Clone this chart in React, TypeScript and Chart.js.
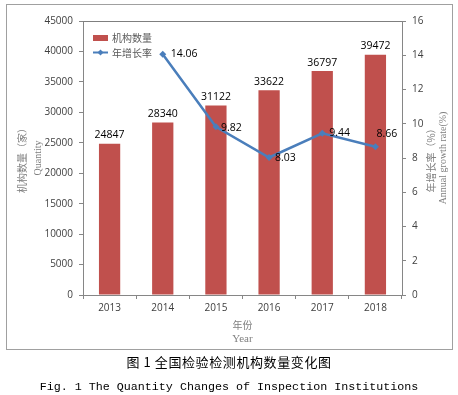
import React, { useEffect, useRef } from "react";
import { Chart, registerables } from "chart.js";

Chart.register(...registerables);

const years = ["2013", "2014", "2015", "2016", "2017", "2018"];
const institutionCounts = [24847, 28340, 31122, 33622, 36797, 39472];
const growthRates = [null, 14.06, 9.82, 8.03, 9.44, 8.66];
const leftTicks = { min: 0, max: 45000, step: 5000 };
const rightTicks = { min: 0, max: 16, step: 2 };
const barLabel = "机构数量";
const lineLabel = "年增长率";
const leftTitleCn = "机构数量（家）";
const leftTitleEn = "Quantity";
const rightTitleCn = "年增长率（%）";
const rightTitleEn = "Annual growth rate(%)";
const xTitleCn = "年份";
const xTitleEn = "Year";
const captionCn = "图 1 全国检验检测机构数量变化图";
const captionEn = "Fig. 1 The Quantity Changes of Inspection Institutions";

const BAR_COLOR = "#C0504D";
const LINE_COLOR = "#4A7EBB";
const AXIS_COLOR = "#868686";
const TITLE_COLOR = "#7f7f7f";
const TICK_FONT = { family: "'Open Sans', sans-serif", size: 10 };

// label placement offsets for the line labels (style only)
const lineLabelOffsets = [
  [0, 0],
  [8, 0],
  [5, 1],
  [6, 1],
  [7, 0],
  [1, -13],
];

const decorPlugin = {
  id: "decor",
  afterDatasetsDraw(chart: any) {
    const ctx = chart.ctx;
    const area = chart.chartArea;
    ctx.save();
    // top border of plot
    ctx.strokeStyle = "#7f7f7f";
    ctx.lineWidth = 1;
    ctx.beginPath();
    ctx.moveTo(area.left, Math.round(area.top) + 0.5);
    ctx.lineTo(area.right, Math.round(area.top) + 0.5);
    ctx.stroke();

    // bar labels
    const barMeta = chart.getDatasetMeta(1);
    ctx.fillStyle = "#000";
    ctx.font = "10.5px 'Open Sans', sans-serif";
    ctx.textAlign = "center";
    ctx.textBaseline = "bottom";
    barMeta.data.forEach((el: any, i: number) => {
      ctx.fillText(String(institutionCounts[i]), el.x, el.y - 3);
    });

    // line labels
    const lineMeta = chart.getDatasetMeta(0);
    ctx.textAlign = "left";
    ctx.textBaseline = "middle";
    lineMeta.data.forEach((el: any, i: number) => {
      const v = growthRates[i];
      if (v === null || el.skip) return;
      const [dx, dy] = lineLabelOffsets[i];
      ctx.fillText(v.toFixed(2), el.x + dx, el.y + dy);
    });

    // legend
    const lx = area.left + 10;
    ctx.fillStyle = BAR_COLOR;
    ctx.fillRect(lx, 35, 15, 6);
    ctx.strokeStyle = LINE_COLOR;
    ctx.lineWidth = 2;
    ctx.beginPath();
    ctx.moveTo(lx, 52.5);
    ctx.lineTo(lx + 15, 52.5);
    ctx.stroke();
    ctx.fillStyle = LINE_COLOR;
    ctx.beginPath();
    ctx.moveTo(lx + 7.5, 49.5);
    ctx.lineTo(lx + 10.5, 52.5);
    ctx.lineTo(lx + 7.5, 55.5);
    ctx.lineTo(lx + 4.5, 52.5);
    ctx.closePath();
    ctx.fill();
    ctx.fillStyle = "#595959";
    ctx.font = "10px 'Noto Sans CJK SC', sans-serif";
    ctx.textAlign = "left";
    ctx.textBaseline = "middle";
    ctx.fillText(barLabel, lx + 19, 38);
    ctx.fillText(lineLabel, lx + 19, 53);

    // axis titles
    const cy = (area.top + area.bottom) / 2;
    ctx.fillStyle = TITLE_COLOR;
    ctx.textAlign = "center";
    ctx.textBaseline = "middle";
    const vText = (text: string, x: number, font: string) => {
      ctx.save();
      ctx.translate(x, cy);
      ctx.rotate(-Math.PI / 2);
      ctx.font = font;
      ctx.fillText(text, 0, 0);
      ctx.restore();
    };
    vText(leftTitleCn, 22, "10px 'Noto Sans CJK SC', sans-serif");
    vText(leftTitleEn, 38, "10px 'Liberation Serif', serif");
    vText(rightTitleCn, 431, "10px 'Noto Sans CJK SC', sans-serif");
    vText(rightTitleEn, 443, "10px 'Liberation Serif', serif");

    const cx = (area.left + area.right) / 2;
    ctx.font = "10px 'Noto Sans CJK SC', sans-serif";
    ctx.fillText(xTitleCn, cx, 325);
    ctx.font = "11px 'Liberation Serif', serif";
    ctx.fillText(xTitleEn, cx, 339);
    ctx.restore();
  },
};

export default function App() {
  const canvasRef = useRef<HTMLCanvasElement | null>(null);

  useEffect(() => {
    document.body.style.margin = "0";
    const canvas = canvasRef.current;
    if (!canvas) return;
    const chart = new Chart(canvas, {
      type: "bar",
      data: {
        labels: years,
        datasets: [
          {
            type: "line",
            label: lineLabel,
            data: growthRates,
            yAxisID: "y1",
            borderColor: LINE_COLOR,
            backgroundColor: LINE_COLOR,
            borderWidth: 2.5,
            pointStyle: "rectRot",
            pointRadius: 3.5,
            pointBorderWidth: 0,
            tension: 0,
            order: 0,
          } as any,
          {
            type: "bar",
            label: barLabel,
            data: institutionCounts,
            yAxisID: "y",
            backgroundColor: BAR_COLOR,
            borderWidth: 0,
            categoryPercentage: 1,
            barPercentage: 0.4,
            order: 1,
          },
        ],
      },
      options: {
        responsive: false,
        animation: false,
        layout: { padding: { top: 21, left: 0, right: 0, bottom: 0 } },
        plugins: {
          legend: { display: false },
          tooltip: { enabled: false },
        },
        scales: {
          x: {
            offset: true,
            grid: {
              display: true,
              drawOnChartArea: false,
              drawTicks: true,
              tickLength: 4,
              offset: true,
              color: AXIS_COLOR,
            },
            border: { color: AXIS_COLOR },
            ticks: { padding: 3, font: TICK_FONT, color: "#404040" },
            afterFit: (s: any) => {
              s.height = 55;
            },
          },
          y: {
            position: "left",
            min: leftTicks.min,
            max: leftTicks.max,
            grid: {
              drawOnChartArea: false,
              drawTicks: true,
              tickLength: 4,
              color: AXIS_COLOR,
            },
            border: { color: AXIS_COLOR },
            ticks: {
              stepSize: leftTicks.step,
              padding: 6,
              font: TICK_FONT,
              color: "#404040",
              callback: (v: any) => String(v),
            },
            afterFit: (s: any) => {
              s.width = 83;
            },
          },
          y1: {
            position: "right",
            min: rightTicks.min,
            max: rightTicks.max,
            grid: {
              drawOnChartArea: false,
              drawTicks: true,
              tickLength: 4,
              color: AXIS_COLOR,
            },
            border: { color: AXIS_COLOR },
            ticks: {
              stepSize: rightTicks.step,
              padding: 6,
              font: TICK_FONT,
              color: "#404040",
              callback: (v: any) => String(v),
            },
            afterFit: (s: any) => {
              s.width = 56;
            },
          },
        },
      },
      plugins: [decorPlugin],
    });
    return () => chart.destroy();
  }, []);

  return (
    <div style={{ position: "relative", width: 458, height: 395, background: "#fff" }}>
      <canvas
        ref={canvasRef}
        width={458}
        height={350}
        style={{ position: "absolute", left: 0, top: 0, width: 458, height: 350 }}
      />
      <div
        style={{
          position: "absolute",
          left: 6,
          top: 4,
          width: 445,
          height: 344,
          border: "1px solid #a0a0a0",
          pointerEvents: "none",
        }}
      />
      <div
        style={{
          position: "absolute",
          left: 0,
          top: 354,
          width: 458,
          textAlign: "center",
          font: "13px 'Noto Sans CJK SC', sans-serif",
          lineHeight: "16px",
          letterSpacing: "0.6px",
          color: "#000",
          whiteSpace: "pre",
        }}
      >
        {captionCn}
      </div>
      <div
        style={{
          position: "absolute",
          left: 0,
          top: 379,
          width: 458,
          textAlign: "center",
          font: "11.7px 'Liberation Mono', monospace",
          lineHeight: "16px",
          color: "#000",
          whiteSpace: "pre",
        }}
      >
        {captionEn}
      </div>
    </div>
  );
}
